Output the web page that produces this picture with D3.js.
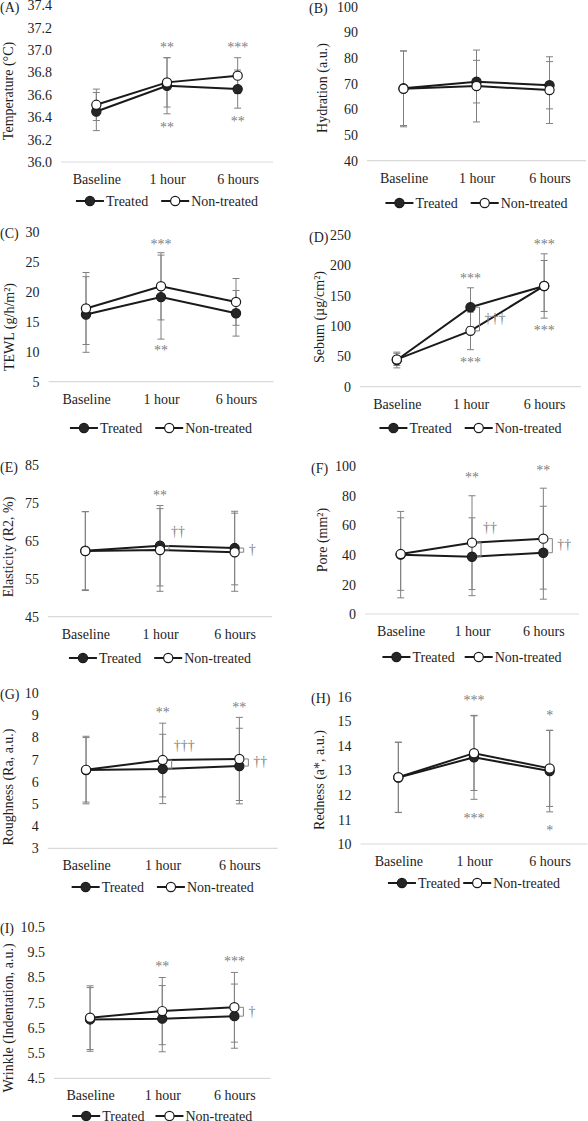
<!DOCTYPE html>
<html>
<head>
<meta charset="utf-8">
<script src="https://cdn.jsdelivr.net/npm/d3@7"></script>
<style>
  body { margin: 0; background: #fff; }
  svg { display: block; font-family: "Liberation Serif", "Times New Roman", serif; }
</style>
</head>
<body>
<svg id="chart" width="588" height="1121"></svg>
<script>
// x categories and series names
const categories = ["Baseline", "1 hour", "6 hours"];
const seriesNames = ["Treated", "Non-treated"];

// (A) temperature
const tempTicks = [36.0, 36.2, 36.4, 36.6, 36.8, 37.0, 37.2, 37.4];
const tempTreated = [36.45, 36.68, 36.65];
const tempTreatedSD = [0.17, 0.25, 0.17];
const tempNon = [36.51, 36.71, 36.77];
const tempNonSD = [0.14, 0.22, 0.16];
const tempUpper = ["", "**", "***"];
const tempLower = ["", "**", "**"];
const tempDaggers = ["", "", ""];

// (B) hydration
const hydTicks = [40, 50, 60, 70, 80, 90, 100];
const hydTreated = [68.2, 70.8, 69.4];
const hydTreatedSD = [14.5, 8.3, 9.2];
const hydNon = [68.0, 69.1, 67.5];
const hydNonSD = [14.8, 14.0, 13.0];
const hydUpper = ["", "", ""];
const hydLower = ["", "", ""];
const hydDaggers = ["", "", ""];

// (C) TEWL
const tewlTicks = [5, 10, 15, 20, 25, 30];
const tewlTreated = [16.2, 19.1, 16.4];
const tewlTreatedSD = [6.3, 7.0, 3.8];
const tewlNon = [17.2, 20.9, 18.3];
const tewlNonSD = [6.0, 5.6, 3.9];
const tewlUpper = ["", "***", ""];
const tewlLower = ["", "**", ""];
const tewlDaggers = ["", "", ""];

// (D) sebum
const sebTicks = [0, 50, 100, 150, 200, 250];
const sebTreated = [44, 131, 166];
const sebTreatedSD = [13, 32, 53];
const sebNon = [45, 92, 166];
const sebNonSD = [10, 31, 42];
const sebUpper = ["", "***", "***"];
const sebLower = ["", "***", "***"];
const sebDaggers = ["", "\u2020\u2020\u2020", ""];

// (E) elasticity
const elaTicks = [45, 55, 65, 75, 85];
const elaTreated = [62.4, 63.7, 63.1];
const elaTreatedSD = [10.3, 10.6, 9.7];
const elaNon = [62.3, 62.6, 62.0];
const elaNonSD = [10.4, 10.9, 10.3];
const elaUpper = ["", "**", ""];
const elaLower = ["", "", ""];
const elaDaggers = ["", "\u2020\u2020", "\u2020"];

// (F) pore
const poreTicks = [0, 20, 40, 60, 80, 100];
const poreTreated = [40.1, 38.7, 41.4];
const poreTreatedSD = [29.2, 26.3, 31.4];
const poreNon = [40.5, 48.2, 50.9];
const poreNonSD = [24.5, 31.7, 34.1];
const poreUpper = ["", "**", "**"];
const poreLower = ["", "", ""];
const poreDaggers = ["", "\u2020\u2020", "\u2020\u2020"];

// (G) roughness
const roughTicks = [3, 4, 5, 6, 7, 8, 9, 10];
const roughTreated = [6.52, 6.57, 6.70];
const roughTreatedSD = [1.52, 1.56, 1.70];
const roughNon = [6.53, 6.97, 7.02];
const roughNonSD = [1.45, 1.66, 1.87];
const roughUpper = ["", "**", "**"];
const roughLower = ["", "", ""];
const roughDaggers = ["", "\u2020\u2020\u2020", "\u2020\u2020"];

// (H) redness
const redTicks = [10, 11, 12, 13, 14, 15, 16];
const redTreated = [12.71, 13.53, 12.97];
const redTreatedSD = [1.43, 1.71, 1.66];
const redNon = [12.72, 13.70, 13.08];
const redNonSD = [1.43, 1.52, 1.55];
const redUpper = ["", "***", "*"];
const redLower = ["", "***", "*"];
const redDaggers = ["", "", ""];

// (I) wrinkle
const wrTicks = [4.5, 5.5, 6.5, 7.5, 8.5, 9.5, 10.5];
const wrTreated = [6.83, 6.86, 6.96];
const wrTreatedSD = [1.26, 1.31, 1.27];
const wrNon = [6.90, 7.16, 7.31];
const wrNonSD = [1.26, 1.33, 1.38];
const wrUpper = ["", "**", "***"];
const wrLower = ["", "", ""];
const wrDaggers = ["", "", "\u2020"];

// table of panels built from the arrays above
const panels = [
  {letter: "(A)", title: "Temperature (\u00B0C)", ticks: tempTicks, fmt: ".1f",
   tr: tempTreated, trSD: tempTreatedSD, nt: tempNon, ntSD: tempNonSD, up: tempUpper, lo: tempLower, dag: tempDaggers},
  {letter: "(B)", title: "Hydration (a.u.)", ticks: hydTicks, fmt: "d",
   tr: hydTreated, trSD: hydTreatedSD, nt: hydNon, ntSD: hydNonSD, up: hydUpper, lo: hydLower, dag: hydDaggers},
  {letter: "(C)", title: "TEWL (g/h/m\u00B2)", ticks: tewlTicks, fmt: "d",
   tr: tewlTreated, trSD: tewlTreatedSD, nt: tewlNon, ntSD: tewlNonSD, up: tewlUpper, lo: tewlLower, dag: tewlDaggers},
  {letter: "(D)", title: "Sebum (\u00B5g/cm\u00B2)", ticks: sebTicks, fmt: "d",
   tr: sebTreated, trSD: sebTreatedSD, nt: sebNon, ntSD: sebNonSD, up: sebUpper, lo: sebLower, dag: sebDaggers},
  {letter: "(E)", title: "Elasticity (R2, %)", ticks: elaTicks, fmt: "d",
   tr: elaTreated, trSD: elaTreatedSD, nt: elaNon, ntSD: elaNonSD, up: elaUpper, lo: elaLower, dag: elaDaggers},
  {letter: "(F)", title: "Pore (mm\u00B2)", ticks: poreTicks, fmt: "d",
   tr: poreTreated, trSD: poreTreatedSD, nt: poreNon, ntSD: poreNonSD, up: poreUpper, lo: poreLower, dag: poreDaggers},
  {letter: "(G)", title: "Roughness (Ra, a.u.)", ticks: roughTicks, fmt: "d",
   tr: roughTreated, trSD: roughTreatedSD, nt: roughNon, ntSD: roughNonSD, up: roughUpper, lo: roughLower, dag: roughDaggers},
  {letter: "(H)", title: "Redness (a*, a.u.)", ticks: redTicks, fmt: "d",
   tr: redTreated, trSD: redTreatedSD, nt: redNon, ntSD: redNonSD, up: redUpper, lo: redLower, dag: redDaggers},
  {letter: "(I)", title: "Wrinkle (Indentation, a.u.)", ticks: wrTicks, fmt: ".1f",
   tr: wrTreated, trSD: wrTreatedSD, nt: wrNon, ntSD: wrNonSD, up: wrUpper, lo: wrLower, dag: wrDaggers}
];

// where each panel sits on the page
const layout = [
  {x0: 61,   x1: 273,   yTop: 5,     yBot: 162,    titleX: 8,   titleY: 91,   letterX: 0,   legendY: 201,  legGap: 13, starOff: 12, dagPlace: ["", "", ""]},
  {x0: 367,  x1: 586,   yTop: 6.7,   yBot: 160.7,  titleX: 322, titleY: 88,   letterX: 309, legendY: 203,  legGap: 13, starOff: 12, dagPlace: ["", "", ""]},
  {x0: 48.5, x1: 273.5, yTop: 231.7, yBot: 381.7,  titleX: 9,   titleY: 327,  letterX: 0,   legendY: 428,  legGap: 13, starOff: 10, dagPlace: ["", "", ""]},
  {x0: 360,  x1: 581,   yTop: 235,   yBot: 386.7,  titleX: 319, titleY: 317,  letterX: 309, legendY: 428,  legGap: 13, starOff: 11, dagPlace: ["", "right", ""]},
  {x0: 48,   x1: 272,   yTop: 465,   yBot: 616.7,  titleX: 8,   titleY: 547,  letterX: 0,   legendY: 658,  legGap: 13, starOff: 12, dagPlace: ["", "above", "right"]},
  {x0: 365,  x1: 579,   yTop: 466,   yBot: 614,    titleX: 322, titleY: 540,  letterX: 311, legendY: 657,  legGap: 10, starOff: 20, dagPlace: ["", "above", "right"]},
  {x0: 47.7, x1: 277.7, yTop: 692.7, yBot: 848.3,  titleX: 8,   titleY: 787,  letterX: 0,   legendY: 887,  legGap: 13, starOff: 12, dagPlace: ["", "above", "right"]},
  {x0: 360.5,x1: 587.5, yTop: 696.7, yBot: 844,    titleX: 319, titleY: 780,  letterX: 311, legendY: 883,  legGap: 3,  starOff: 17, dagPlace: ["", "", ""]},
  {x0: 54,   x1: 270.5, yTop: 926.7, yBot: 1078.3, titleX: 8,   titleY: 1018, letterX: 0,   legendY: 1116, legGap: 11, starOff: 13, dagPlace: ["", "", "right"]}
];

const ink = "#1e1e1e";
const lineInk = "#1a1a1a";
const barInk = "#808080";
const noteInk = "#808080";
const fontSize = 14;

const svg = d3.select("#chart");

function drawPanel(p, L) {
  const g = svg.append("g");

  const x = d3.scalePoint().domain(categories).range([L.x0, L.x1]).padding(0.5);
  const y = d3.scaleLinear()
    .domain([p.ticks[0], p.ticks[p.ticks.length - 1]])
    .range([L.yBot, L.yTop]);

  // baseline of plot
  g.append("line")
    .attr("x1", L.x0).attr("x2", L.x1)
    .attr("y1", L.yBot).attr("y2", L.yBot)
    .attr("stroke", "#d9d9d9").attr("stroke-width", 1.2);

  // y axis labels
  const ya = g.append("g")
    .attr("transform", "translate(" + L.x0 + ",0)")
    .call(d3.axisLeft(y).tickValues(p.ticks).tickFormat(d3.format(p.fmt)).tickSize(0).tickPadding(9));
  ya.select(".domain").remove();
  ya.attr("font-family", null).attr("font-size", fontSize);
  ya.selectAll("text").attr("fill", ink).attr("dy", "0.33em");

  // x axis labels
  const xa = g.append("g")
    .attr("transform", "translate(0," + L.yBot + ")")
    .call(d3.axisBottom(x).tickSize(0).tickPadding(12));
  xa.select(".domain").remove();
  xa.attr("font-family", null).attr("font-size", fontSize);
  xa.selectAll("text").attr("fill", ink);

  // axis title
  g.append("text")
    .attr("transform", "translate(" + L.titleX + "," + L.titleY + ") rotate(-90)")
    .attr("text-anchor", "middle")
    .attr("dy", "0.33em")
    .attr("font-size", fontSize)
    .attr("fill", ink)
    .text(p.title);

  // panel letter
  g.append("text")
    .attr("x", L.letterX).attr("y", L.yTop + 2)
    .attr("dy", "0.33em")
    .attr("font-size", fontSize)
    .attr("fill", ink)
    .text(p.letter);

  const series = [
    {vals: p.tr, sd: p.trSD, fill: "#262626"},
    {vals: p.nt, sd: p.ntSD, fill: "#fff"}
  ];

  // error bars
  const cap = 3.5;
  series.forEach(function(s) {
    const eb = g.append("g").attr("stroke", barInk).attr("stroke-width", 1);
    categories.forEach(function(c, i) {
      const cx = x(c);
      const hi = y(s.vals[i] + s.sd[i]);
      const lo = y(s.vals[i] - s.sd[i]);
      eb.append("line").attr("x1", cx).attr("x2", cx).attr("y1", hi).attr("y2", lo);
      eb.append("line").attr("x1", cx - cap).attr("x2", cx + cap).attr("y1", hi).attr("y2", hi);
      eb.append("line").attr("x1", cx - cap).attr("x2", cx + cap).attr("y1", lo).attr("y2", lo);
    });
  });

  // lines
  const line = d3.line()
    .x(function(d, i) { return x(categories[i]); })
    .y(function(d) { return y(d); });
  series.forEach(function(s) {
    g.append("path")
      .attr("d", line(s.vals))
      .attr("fill", "none")
      .attr("stroke", lineInk)
      .attr("stroke-width", 2);
  });

  // markers
  series.forEach(function(s) {
    g.selectAll(null)
      .data(s.vals)
      .enter()
      .append("circle")
      .attr("cx", function(d, i) { return x(categories[i]); })
      .attr("cy", function(d) { return y(d); })
      .attr("r", 4.6)
      .attr("fill", s.fill)
      .attr("stroke", lineInk)
      .attr("stroke-width", 1.2);
  });

  // significance stars
  categories.forEach(function(c, i) {
    const top = Math.min(y(p.tr[i] + p.trSD[i]), y(p.nt[i] + p.ntSD[i]));
    const bot = Math.max(y(p.tr[i] - p.trSD[i]), y(p.nt[i] - p.ntSD[i]));
    if (p.up[i]) {
      g.append("text")
        .attr("x", x(c)).attr("y", top - L.starOff)
        .attr("dy", "0.45em")
        .attr("text-anchor", "middle")
        .attr("font-size", fontSize)
        .attr("fill", noteInk)
        .text(p.up[i]);
    }
    if (p.lo[i]) {
      g.append("text")
        .attr("x", x(c)).attr("y", bot + L.starOff)
        .attr("dy", "0.45em")
        .attr("text-anchor", "middle")
        .attr("font-size", fontSize)
        .attr("fill", noteInk)
        .text(p.lo[i]);
    }
  });

  // brackets with daggers
  categories.forEach(function(c, i) {
    if (!p.dag[i]) return;
    const bx = x(c) + 9;
    const t = Math.min(y(p.tr[i]), y(p.nt[i]));
    const b = Math.max(y(p.tr[i]), y(p.nt[i]));
    g.append("path")
      .attr("d", "M" + (bx - 4) + "," + t + "H" + bx + "V" + b + "H" + (bx - 4))
      .attr("fill", "none")
      .attr("stroke", barInk)
      .attr("stroke-width", 1);
    const above = L.dagPlace[i] === "above";
    g.append("text")
      .attr("x", above ? bx + 2 : bx + 5)
      .attr("y", above ? t - 14 : (t + b) / 2)
      .attr("dy", "0.27em")
      .attr("font-size", fontSize)
      .attr("fill", noteInk)
      .text(p.dag[i]);
  });

  // legend
  const leg = g.append("g");
  const segLen = 28;
  const items = [];
  seriesNames.forEach(function(name, k) {
    const it = leg.append("g");
    it.append("line")
      .attr("x1", 0).attr("x2", segLen)
      .attr("y1", 0).attr("y2", 0)
      .attr("stroke", lineInk).attr("stroke-width", 2);
    it.append("circle")
      .attr("cx", segLen / 2).attr("cy", 0).attr("r", 4.6)
      .attr("fill", series[k].fill)
      .attr("stroke", lineInk).attr("stroke-width", 1.2);
    const tx = it.append("text")
      .attr("x", segLen + 2).attr("y", 0)
      .attr("dy", "0.33em")
      .attr("font-size", fontSize)
      .attr("fill", ink)
      .text(name);
    items.push({node: it, w: segLen + 2 + tx.node().getComputedTextLength()});
  });
  const total = items[0].w + L.legGap + items[1].w;
  let start = (L.x0 + L.x1) / 2 - total / 2;
  items.forEach(function(it) {
    it.node.attr("transform", "translate(" + start + "," + L.legendY + ")");
    start += it.w + L.legGap;
  });
}

panels.forEach(function(p, k) { drawPanel(p, layout[k]); });
</script>
</body>
</html>
